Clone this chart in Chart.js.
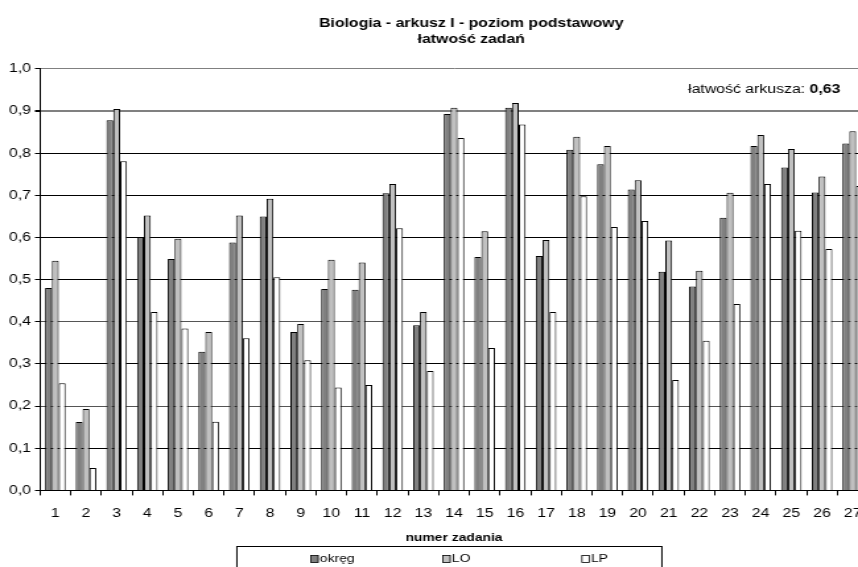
<!DOCTYPE html>
<html>
<head>
<meta charset="utf-8">
<script src="https://cdn.jsdelivr.net/npm/chart.js@4/dist/chart.umd.min.js"></script>
<style>
  html, body { margin: 0; padding: 0; background: #fff; overflow: hidden; width: 858px; height: 567px; }
  /* the original chart image is stretched sideways, so the whole canvas is too */
  #wrap { position: relative; width: 714px; height: 575px; transform: scaleX(1.32); transform-origin: 0 0; }
</style>
</head>
<body>
<div id="wrap"><canvas id="chart" width="714" height="575"></canvas></div>
<script>
// ── Biologia - arkusz I - poziom podstawowy: łatwość zadań ──

const zadania = ['1','2','3','4','5','6','7','8','9','10','11','12','13','14','15','16','17','18','19','20','21','22','23','24','25','26','27'];

// okręg / LO / LP
const okreg = [0.48, 0.162, 0.878, 0.601, 0.549, 0.329, 0.588, 0.650, 0.376, 0.478, 0.476, 0.705, 0.392, 0.893, 0.554, 0.908, 0.556, 0.808, 0.774, 0.714, 0.519, 0.484, 0.647, 0.817, 0.766, 0.707, 0.823];
const lo    = [0.545, 0.193, 0.905, 0.652, 0.597, 0.376, 0.652, 0.692, 0.395, 0.547, 0.541, 0.727, 0.423, 0.908, 0.615, 0.919, 0.594, 0.839, 0.817, 0.736, 0.593, 0.521, 0.706, 0.843, 0.810, 0.745, 0.852];
const lp    = [0.254, 0.053, 0.781, 0.423, 0.384, 0.163, 0.361, 0.506, 0.309, 0.244, 0.250, 0.622, 0.283, 0.836, 0.338, 0.868, 0.423, 0.698, 0.625, 0.639, 0.262, 0.355, 0.442, 0.727, 0.616, 0.573, 0.722];

const seriesNames = ['okręg', 'LO', 'LP'];
const titleLines = ['Biologia - arkusz I - poziom podstawowy', 'łatwość zadań'];
const xTitle = 'numer zadania';
const sheetLabel = 'łatwość arkusza: ';
const sheetValue = '0,63';

const FONT = "'Liberation Sans', Arial, sans-serif";

// legend in a framed box under the axis title, plus the sheet easiness note
const decorations = {
  id: 'decorations',
  afterDraw(chart) {
    const ctx = chart.ctx;
    const area = chart.chartArea;
    const yScale = chart.scales.y;
    ctx.save();

    // note: "łatwość arkusza: 0,63"
    const ny = yScale.getPixelForValue(0.95);
    ctx.textBaseline = 'middle';
    ctx.textAlign = 'left';
    ctx.fillStyle = '#000';
    ctx.font = 'bold 12px ' + FONT;
    const vw = ctx.measureText(sheetValue).width;
    const right = area.right - 21;
    ctx.fillText(sheetValue, right - vw, ny);
    ctx.font = '12px ' + FONT;
    const lw = ctx.measureText(sheetLabel).width;
    ctx.fillText(sheetLabel, right - vw - lw, ny);

    // legend box
    const cx = (area.left + area.right) / 2;
    ctx.strokeStyle = '#000';
    ctx.lineWidth = 1;
    ctx.strokeRect(cx - 164.5, 546.5, 322, 40);

    const offsets = [-108.4, -8.4, 96.9];
    chart.data.datasets.forEach((ds, i) => {
      const sx = cx + offsets[i];
      const sy = 555.5;
      ctx.fillStyle = ds.backgroundColor;
      ctx.fillRect(sx, sy, 5.5, 7);
      ctx.lineWidth = 0.8;
      ctx.strokeRect(sx, sy, 5.5, 7);
      ctx.fillStyle = '#000';
      ctx.font = '10.5px ' + FONT;
      ctx.fillText(ds.label, sx + 6.8, 559.5);
    });
    ctx.restore();
  }
};

const gridColor = (c) => {
  const v = Math.round(c.tick.value * 10);
  if (v === 10 || v === 9) return '#808080';
  if (v === 2 || v === 4) return '#555';
  return '#000';
};

new Chart(document.getElementById('chart'), {
  type: 'bar',
  data: {
    labels: zadania,
    datasets: [
      { label: seriesNames[0], data: okreg, backgroundColor: '#808080', borderColor: '#000', borderWidth: 1 },
      { label: seriesNames[1], data: lo,    backgroundColor: '#c0c0c0', borderColor: '#000', borderWidth: 1 },
      { label: seriesNames[2], data: lp,    backgroundColor: '#ffffff', borderColor: '#000', borderWidth: 1 }
    ]
  },
  options: {
    responsive: false,
    animation: false,
    devicePixelRatio: 1,
    categoryPercentage: 0.67,
    barPercentage: 1,
    layout: { padding: { left: 0, right: 0, top: 0, bottom: 27 } },
    plugins: {
      legend: { display: false },
      tooltip: { enabled: false },
      title: {
        display: true,
        text: titleLines,
        color: '#000',
        font: { family: FONT, size: 12, weight: 'bold', lineHeight: 1.33 },
        padding: { top: 16, bottom: 21 }
      }
    },
    scales: {
      x: {
        border: { color: '#000', width: 1 },
        grid: { offset: true, drawOnChartArea: false, drawTicks: true, tickLength: 5, color: '#000' },
        ticks: { color: '#000', font: { family: FONT, size: 12, lineHeight: 1 }, padding: 12, maxRotation: 0, autoSkip: false },
        title: { display: true, text: xTitle, color: '#000', font: { family: FONT, size: 10.5, weight: 'bold' }, padding: { top: 0, bottom: 4 } }
      },
      y: {
        min: 0, max: 1,
        border: { color: '#000', width: 1 },
        grid: { color: gridColor, lineWidth: (c) => Math.round(c.tick.value * 10) === 9 ? 2 : 1, tickLength: 3.8, tickColor: '#000' },
        ticks: {
          stepSize: 0.1, color: '#000', padding: 3,
          font: { family: FONT, size: 12 },
          callback: (v) => v.toFixed(1).replace('.', ',')
        },
        afterFit(s) { s.width = 30.3; }
      },
      r: {
        type: 'linear', position: 'right', display: true,
        grid: { display: false }, border: { display: false }, ticks: { display: false },
        afterFit(s) { s.width = 56.4; }
      }
    }
  },
  plugins: [decorations]
});
</script>
</body>
</html>
